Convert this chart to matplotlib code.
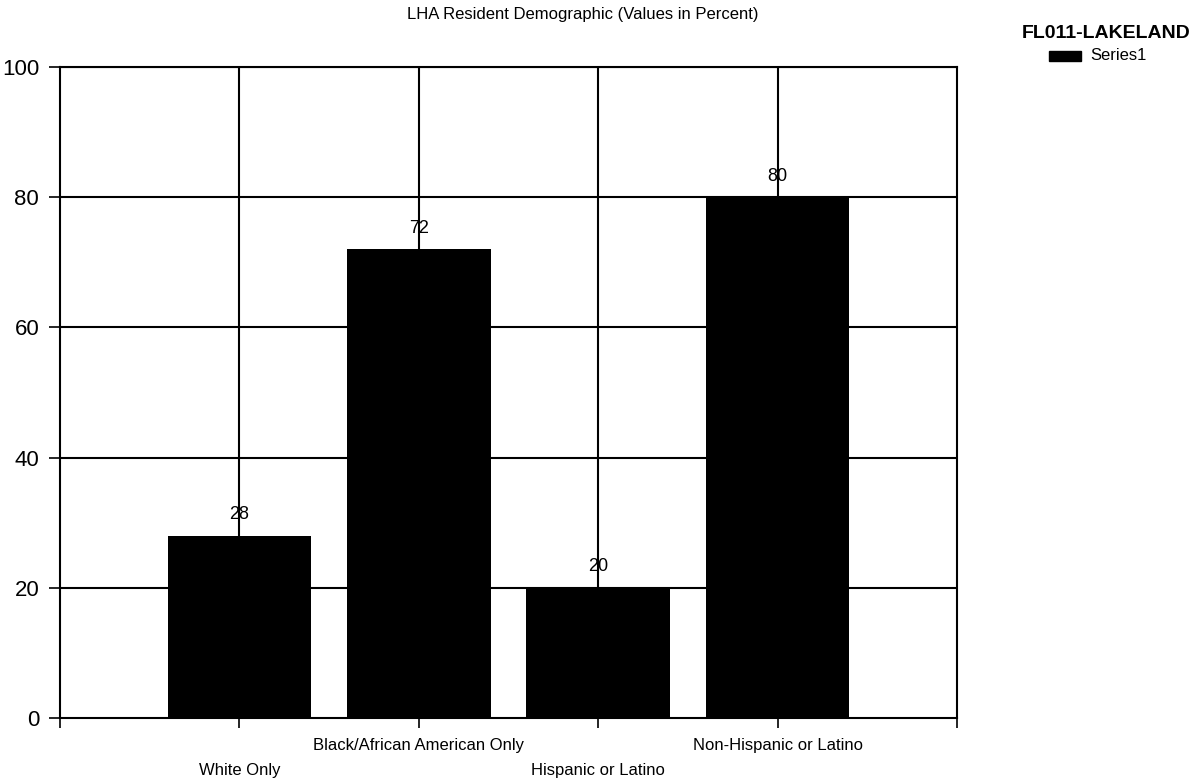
import matplotlib.pyplot as plt
import matplotlib.transforms as mtransforms
from matplotlib.patches import Rectangle

plt.rcParams['font.family'] = ['Liberation Sans', 'DejaVu Sans']

# Resident demographic shares (percent)
categories = ["White Only", "Black/African American Only",
              "Hispanic or Latino", "Non-Hispanic or Latino"]
values = [28, 72, 20, 80]
y_ticks = [0, 20, 40, 60, 80, 100]

fig = plt.figure(figsize=(12.04, 7.84), dpi=100)
ax = fig.add_axes([0.0498, 0.0842, 0.7450, 0.8303])

positions = list(range(1, len(categories) + 1))
ax.bar(positions, values, width=0.8, color="black", zorder=3)

ax.set_xlim(0, 5)
ax.set_ylim(0, 100)
ax.set_yticks(y_ticks)
ax.set_yticklabels([str(t) for t in y_ticks], fontsize=16)
ax.set_xticks([0] + positions + [5])
ax.set_xticklabels([])
ax.tick_params(axis="y", length=8, width=1.2, pad=7)
ax.tick_params(axis="x", length=7, width=1.2)

# grid lines: horizontal at every tick, vertical through category centres
for t in y_ticks[1:]:
    ax.axhline(t, color="black", lw=1.5, zorder=1)
for p in positions:
    ax.axvline(p, color="black", lw=1.5, zorder=1)

for s in ax.spines.values():
    s.set_linewidth(1.5)

# value labels above bars
for p, v in zip(positions, values):
    ax.annotate(str(v), (p, v), xytext=(0, 9), textcoords="offset points",
                ha="center", va="bottom", fontsize=13, zorder=4)

# staggered category labels
trans = mtransforms.blended_transform_factory(ax.transData, ax.transAxes)
for i, (p, name) in enumerate(zip(positions, categories)):
    y = -0.0425 if i % 2 else -0.081
    ax.text(p, y, name, transform=trans, ha="center", va="center", fontsize=12)

fig.text(0.484, 0.982, "LHA Resident Demographic (Values in Percent)",
         ha="center", va="center", fontsize=12)

# legend block on the right
fig.text(0.849, 0.957, "FL011-LAKELAND", ha="left", va="center",
         fontsize=14, fontweight="bold")
fig.patches.append(Rectangle((1049 / 1204, 1 - 61 / 784), 32 / 1204, 10 / 784,
                             transform=fig.transFigure, color="black"))
fig.text(1090 / 1204, 1 - 56 / 784, "Series1", ha="left", va="center",
         fontsize=12)

fig.savefig("out.png", dpi=100)
